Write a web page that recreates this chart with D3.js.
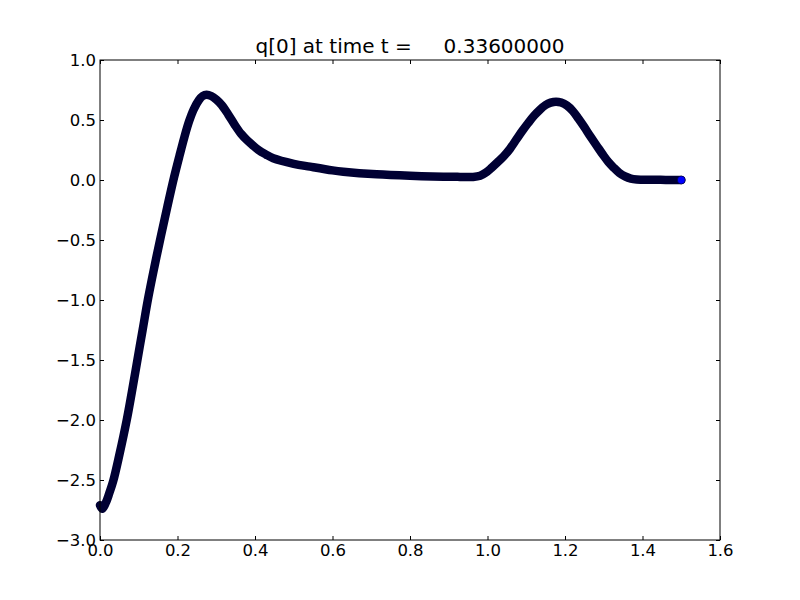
<!DOCTYPE html>
<meta charset="utf-8">
<style>
body { margin: 0; background: #fff; }
text { font-family: "DejaVu Sans", sans-serif; }
</style>
<body>
<script src="https://d3js.org/d3.v7.min.js"></script>
<script>

// values
var tx = [0.0, 0.006, 0.015, 0.024, 0.034, 0.05, 0.069, 0.082, 0.096, 0.11, 0.124, 0.14, 0.157, 0.174,
          0.191, 0.205, 0.218, 0.23, 0.242, 0.255, 0.265, 0.275, 0.287, 0.3, 0.314, 0.331, 0.348, 0.364,
          0.379, 0.394, 0.409, 0.428, 0.447, 0.5, 0.542, 0.6, 0.628, 0.714, 0.8, 0.886, 0.929, 0.963,
          0.981, 0.995, 1.01, 1.025, 1.041, 1.058, 1.075, 1.09, 1.105, 1.12, 1.135, 1.15, 1.163, 1.177,
          1.19, 1.205, 1.22, 1.235, 1.25, 1.265, 1.282, 1.298, 1.312, 1.325, 1.34, 1.355, 1.37, 1.385,
          1.42, 1.46, 1.5];
var qy = [-2.71, -2.74, -2.69, -2.61, -2.51, -2.29, -2.00, -1.77, -1.51, -1.25, -0.99, -0.73, -0.47, -0.22,
          0.02, 0.20, 0.36, 0.49, 0.59, 0.665, 0.70, 0.71, 0.70, 0.67, 0.625, 0.545, 0.458, 0.385,
          0.333, 0.29, 0.25, 0.213, 0.181, 0.135, 0.111, 0.08, 0.069, 0.047, 0.035, 0.028, 0.026, 0.025,
          0.035, 0.06, 0.10, 0.145, 0.195, 0.26, 0.34, 0.41, 0.475, 0.535, 0.585, 0.625, 0.645, 0.653,
          0.645, 0.62, 0.575, 0.51, 0.44, 0.365, 0.285, 0.21, 0.15, 0.105, 0.06, 0.03, 0.012, 0.005,
          0.002, 0.001, 0.0];
var xTicks = [0.0, 0.2, 0.4, 0.6, 0.8, 1.0, 1.2, 1.4, 1.6];
var yTicks = [-3.0, -2.5, -2.0, -1.5, -1.0, -0.5, 0.0, 0.5, 1.0];
var title = "q[0] at time t =     0.33600000";

var margin = {top: 60, right: 80, bottom: 60, left: 100},
    width = 800 - margin.left - margin.right,
    height = 600 - margin.top - margin.bottom;

var x = d3.scaleLinear().domain([0, 1.6]).range([0, width]);
var y = d3.scaleLinear().domain([-3, 1]).range([height, 0]);

var svg = d3.select("body").append("svg")
    .attr("width", 800)
    .attr("height", 600)
  .append("g")
    .attr("transform", "translate(" + margin.left + "," + margin.top + ")");

var data = tx.map(function(d, i) { return {x: d, y: qy[i]}; });

// the thick band of overlapping markers
var line = d3.line()
    .x(function(d) { return x(d.x); })
    .y(function(d) { return y(d.y); })
    .curve(d3.curveCatmullRom.alpha(0.5));

svg.append("path")
    .datum(data)
    .attr("d", line)
    .attr("fill", "none")
    .attr("stroke", "#000033")
    .attr("stroke-width", 8.5)
    .attr("stroke-linecap", "round")
    .attr("stroke-linejoin", "round");

// last marker stays visible on top
var last = data[data.length - 1];
svg.append("circle")
    .attr("cx", x(last.x))
    .attr("cy", y(last.y))
    .attr("r", 4)
    .attr("fill", "#0000ff")
    .attr("stroke", "#000")
    .attr("stroke-width", 0.5);

// frame
svg.append("rect")
    .attr("width", width)
    .attr("height", height)
    .attr("fill", "none")
    .attr("stroke", "#000")
    .attr("stroke-width", 1);

function fmt(d) { return d3.format(".1f")(d).replace("-", "\u2212"); }

// axes, ticks pointing inwards on every side
svg.append("g")
    .attr("transform", "translate(0," + height + ")")
    .call(d3.axisBottom(x).tickValues(xTicks).tickFormat(fmt).tickSizeInner(-4).tickSizeOuter(0).tickPadding(4));
svg.append("g")
    .call(d3.axisTop(x).tickValues(xTicks).tickFormat("").tickSizeInner(-4).tickSizeOuter(0));
svg.append("g")
    .call(d3.axisLeft(y).tickValues(yTicks).tickFormat(fmt).tickSizeInner(-4).tickSizeOuter(0).tickPadding(4));
svg.append("g")
    .attr("transform", "translate(" + width + ",0)")
    .call(d3.axisRight(y).tickValues(yTicks).tickFormat("").tickSizeInner(-4).tickSizeOuter(0));

svg.selectAll(".domain").remove();
svg.selectAll(".tick line").attr("stroke", "#000");
svg.selectAll(".tick text")
    .attr("fill", "#000")
    .style("font-size", "16.5px")
    .style("font-family", "DejaVu Sans, sans-serif");

svg.append("text")
    .attr("x", width / 2)
    .attr("y", -7)
    .attr("text-anchor", "middle")
    .style("font-size", "20px")
    .style("white-space", "pre")
    .attr("xml:space", "preserve")
    .text(title);

</script>
</body>
